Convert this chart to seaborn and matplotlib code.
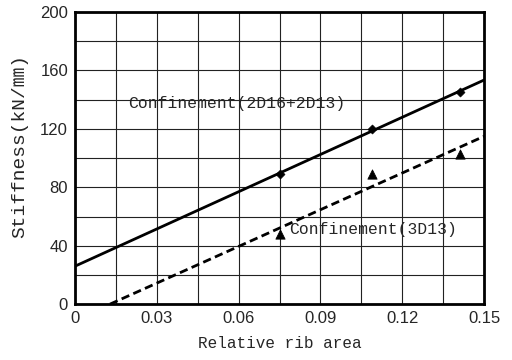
import numpy as np
import pandas as pd
import matplotlib
matplotlib.use("Agg")
import matplotlib.pyplot as plt
import seaborn as sns

# measured points
rib_area_a = [0.075, 0.109, 0.141]
stiff_a = [89, 120, 145]          # Confinement(2D16+2D13)
rib_area_b = [0.075, 0.109, 0.141]
stiff_b = [48, 89, 103]           # Confinement(3D13)

x_ticks = [0, 0.03, 0.06, 0.09, 0.12, 0.15]
x_tick_labels = ["0", "0.03", "0.06", "0.09", "0.12", "0.15"]
y_ticks = [0, 40, 80, 120, 160, 200]

sns.set_style("white")
plt.rcParams['font.family'] = ['Liberation Sans', 'Noto Sans CJK KR', 'DejaVu Sans']

fig = plt.figure(figsize=(5.12, 3.6), dpi=100)
ax = fig.add_axes([0.1465, 0.155, 0.799, 0.812])

# regression lines over the full axis
xs = np.array([0.0, 0.15])
ka, ba = np.polyfit(rib_area_a, stiff_a, 1)
kb, bb = np.polyfit(rib_area_b, stiff_b, 1)
fit = pd.DataFrame({"x": np.concatenate([xs, xs]),
                    "y": np.concatenate([ka * xs + ba, kb * xs + bb]),
                    "series": ["a", "a", "b", "b"]})
sns.lineplot(data=fit[fit.series == "a"], x="x", y="y", color="black", linewidth=2, ax=ax)
sns.lineplot(data=fit[fit.series == "b"], x="x", y="y", color="black", linewidth=2,
             linestyle=(0, (3, 1.6)), ax=ax)

sns.scatterplot(x=rib_area_a, y=stiff_a, marker="D", s=22, color="black", edgecolor="black", ax=ax, zorder=5)
sns.scatterplot(x=rib_area_b, y=stiff_b, marker="^", s=45, color="black", edgecolor="black", ax=ax, zorder=5)

ax.set_xlim(0, 0.15)
ax.set_ylim(0, 200)
ax.set_xticks(x_ticks)
ax.set_xticklabels(x_tick_labels)
ax.set_yticks(y_ticks)
ax.set_xticks(np.arange(0, 0.151, 0.015), minor=True)
ax.set_yticks(np.arange(0, 201, 20), minor=True)
ax.grid(which="both", color="#222222", linewidth=0.8)
ax.tick_params(which="major", direction="out", length=3, width=1, labelsize=12, pad=2)
ax.tick_params(which="minor", length=0)
for s in ax.spines.values():
    s.set_linewidth(2)
    s.set_color("black")

ax.set_xlabel("Relative rib area", family=['Liberation Mono', 'DejaVu Sans'], fontsize=11.5, labelpad=7)
ax.set_ylabel("Stiffness(kN/㎜)", family=['Liberation Mono', 'Noto Sans CJK KR', 'DejaVu Sans'], fontsize=14)
ax.yaxis.set_label_coords(-0.115, 0.54)

ax.text(0.0195, 137, "Confinement(2D16+2D13)", family='Liberation Mono', fontsize=11.8, va="center")
ax.text(0.0785, 51, "Confinement(3D13)", family='Liberation Mono', fontsize=11.8, va="center")

fig.savefig("out.png", dpi=100)
